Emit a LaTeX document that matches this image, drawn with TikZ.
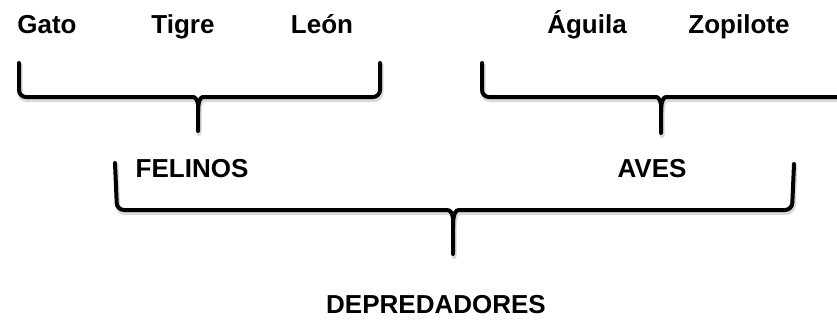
\documentclass[tikz,border=0pt]{standalone}
\usepackage{fontspec}
\setmainfont{Liberation Sans}
\begin{document}
\begin{tikzpicture}[x=1pt,y=-1pt,
    etiqueta/.style={font=\bfseries\fontsize{26}{30}\selectfont, anchor=base, inner sep=0pt},
    sombra/.style={shift={(1,2.5)}, draw=black!15, line width=5pt},
    negro/.style={draw=black, line width=4pt}]
  \useasboundingbox (0,0) rectangle (837,329);
  \draw
    (47,34) node[etiqueta] (gato){Gato}
    (183,34) node[etiqueta] (tigre){Tigre}
    (322,34) node[etiqueta] (leon){León}
    (587,34) node[etiqueta] (aguila){Águila}
    (739,34) node[etiqueta] (zopilote){Zopilote}
    (192,177) node[etiqueta] (felinos){FELINOS}
    (652,177) node[etiqueta] (aves){AVES}
    (436,313) node[etiqueta] (depredadores){DEPREDADORES};
  \foreach \capa in {sombra,negro} {
    \begin{scope}[\capa, rounded corners=7pt, line cap=round]
      \draw (19,63) -- (19,97) -- (186,97) .. controls (195,97) and (198,100) .. (198,112) -- (198,131);
      \draw (380,63) -- (380,97) -- (210,97) .. controls (201,97) and (198,100) .. (198,112);
      \draw (482,63) -- (482,97) -- (649,97) .. controls (658,97) and (661,100) .. (661,112) -- (661,133);
      \draw (848,63) -- (848,97) -- (673,97) .. controls (664,97) and (661,100) .. (661,112);
      \draw (115,163) -- (117,210) -- (440,210) .. controls (450,210) and (453,213) .. (453,226) -- (453,254);
      \draw (794,164) -- (792,210) -- (466,210) .. controls (456,210) and (453,213) .. (453,226);
    \end{scope}
  }
\end{tikzpicture}
\end{document}
